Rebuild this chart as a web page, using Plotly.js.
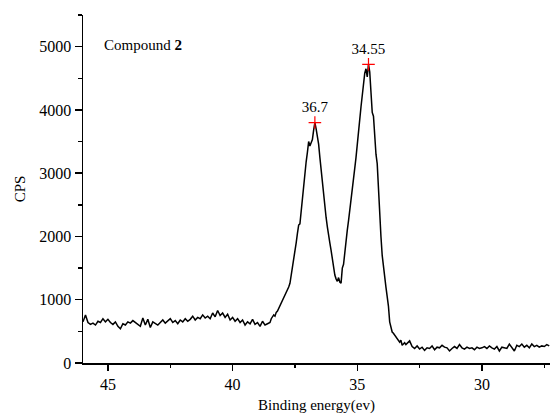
<!DOCTYPE html>
<html>
<head>
<meta charset="utf-8">
<script src="https://cdn.plot.ly/plotly-3.0.1.min.js"></script>
<style>html,body{margin:0;padding:0;background:#fff;}#chart{width:550px;height:419px;}</style>
</head>
<body>
<div id="chart"></div>
<script>
// Binding energy (eV) and counts per second
const energyLow = [46.0,45.9,45.8,45.7,45.6,45.5,45.4,45.3,45.2,45.1,45.0,44.9,44.8,44.7,44.6,44.5,44.4,44.3,44.2,44.1,44.0,43.9,43.8,43.7,43.6,43.5,43.4,43.3,43.2,43.1,43.0,42.9,42.8,42.7,42.6,42.5,42.4,42.3,42.2,42.1,42.0,41.9,41.8,41.7,41.6,41.5,41.4,41.3,41.2,41.1,41.0,40.9,40.8,40.7,40.6,40.5,40.4,40.3,40.2,40.1,40.0,39.9,39.8,39.7,39.6,39.5,39.4,39.3,39.2,39.1,39.0,38.9,38.8,38.7,38.6];
const cpsLow = [650,760,640,610,630,600,660,640,700,650,690,640,610,650,580,540,620,600,650,630,670,640,600,580,710,600,690,560,650,620,600,640,680,630,660,700,640,670,620,680,650,700,660,690,740,680,720,700,760,710,740,700,790,730,830,750,790,720,770,680,720,660,700,640,680,600,650,620,690,610,640,580,660,600,620];

const energyPeaks = [38.5,38.45,38.4,38.35,38.3,38.25,38.2,38.15,38.1,38.05,38.0,37.95,37.9,37.85,37.8,37.75,37.7,37.65,37.6,37.55,37.5,37.45,37.4,37.35,37.3,37.25,37.2,37.15,37.1,37.05,37.0,36.95,36.9,36.85,36.8,36.75,36.7,36.65,36.6,36.55,36.5,36.45,36.4,36.35,36.3,36.25,36.2,36.15,36.1,36.05,36.0,35.95,35.9,35.85,35.8,35.75,35.7,35.65,35.6,35.55,35.5,35.45,35.4,35.35,35.3,35.25,35.2,35.15,35.1,35.05,35.0,34.95,34.9,34.85,34.8,34.75,34.7,34.65,34.6,34.55,34.5,34.45,34.4,34.35,34.3,34.25,34.2,34.15,34.1,34.05,34.0,33.95,33.9,33.85,33.8,33.75,33.7,33.65,33.6,33.55,33.5,33.45,33.4,33.35,33.3,33.25,33.2,33.15,33.1,33.05,33.0];
const cpsPeaks = [640,700,730,760,740,800,820,860,900,960,1000,1040,1070,1110,1140,1200,1260,1380,1480,1620,1760,1900,2050,2180,2200,2420,2620,2800,3000,3180,3330,3500,3430,3500,3530,3680,3800,3700,3580,3460,3250,3050,2850,2600,2420,2300,2150,2050,1900,1780,1640,1480,1390,1330,1290,1350,1280,1260,1500,1560,1780,1900,2100,2250,2400,2560,2700,2880,3080,3250,3420,3650,3850,4050,4250,4450,4580,4650,4520,4720,4600,4280,3960,3900,3550,3300,3150,2700,2400,2000,1700,1500,1380,1200,1050,900,650,540,490,470,440,420,400,370,330,360,280,300,320,290,310];

const energyHigh = [32.9,32.8,32.7,32.6,32.5,32.4,32.3,32.2,32.1,32.0,31.9,31.8,31.7,31.6,31.5,31.4,31.3,31.2,31.1,31.0,30.9,30.8,30.7,30.6,30.5,30.4,30.3,30.2,30.1,30.0,29.9,29.8,29.7,29.6,29.5,29.4,29.3,29.2,29.1,29.0,28.9,28.8,28.7,28.6,28.5,28.4,28.3,28.2,28.1,28.0,27.9,27.8,27.7,27.6,27.5,27.4,27.3];
const cpsHigh = [350,260,230,270,220,250,200,240,230,270,210,250,240,280,250,240,190,230,260,230,290,240,220,250,230,240,210,250,230,240,260,230,270,240,220,260,190,250,240,230,300,250,190,280,260,300,250,280,240,300,260,280,250,270,260,290,270];

const peakEnergy = [36.7, 34.55];
const peakCps = [3800, 4720];
const peakLabels = ['36.7', '34.55'];

const xTicks = [45, 40, 35, 30];
const yTicks = [0, 1000, 2000, 3000, 4000, 5000];

const energy = energyLow.concat(energyPeaks, energyHigh);
const cps = cpsLow.concat(cpsPeaks, cpsHigh);

const font = 'Liberation Serif, Times New Roman, serif';

const traces = [
  {x: energy, y: cps, type: 'scatter', mode: 'lines',
   line: {color: '#000', width: 1.5}, hoverinfo: 'skip'},
  {x: peakEnergy, y: peakCps, type: 'scatter', mode: 'markers+text',
   text: peakLabels, textposition: 'top center',
   textfont: {family: font, size: 15, color: '#000'},
   marker: {symbol: 'cross-thin', size: 9, color: 'red', line: {color: 'red', width: 1.2}}}
];

const layout = {
  width: 550, height: 419,
  margin: {l: 83, r: 0, t: 15, b: 56},
  paper_bgcolor: '#fff', plot_bgcolor: '#fff',
  showlegend: false,
  font: {family: font, size: 15, color: '#000'},
  xaxis: {
    range: [46, 27.27], showgrid: false, zeroline: false,
    showline: true, linecolor: '#000', linewidth: 1.5,
    ticks: 'outside', ticklen: 6, tickwidth: 1.5, tickcolor: '#000',
    tickvals: xTicks, ticktext: xTicks.map(String),
    tickfont: {family: font, size: 16},
    minor: {ticks: 'outside', dtick: 2.5, tick0: 0, ticklen: 3, tickwidth: 1.5, tickcolor: '#000', showgrid: false},
    title: {text: 'Binding energy(ev)', font: {family: font, size: 15}, standoff: 8}
  },
  yaxis: {
    range: [0, 5500], showgrid: false, zeroline: false,
    showline: true, linecolor: '#000', linewidth: 1.5,
    ticks: 'outside', ticklen: 7, tickwidth: 1.5, tickcolor: '#000',
    tickvals: yTicks, ticktext: yTicks.map(String),
    tickfont: {family: font, size: 16},
    minor: {ticks: 'outside', dtick: 500, tick0: 0, ticklen: 4, tickwidth: 1.5, tickcolor: '#000', showgrid: false},
    title: {text: 'CPS', font: {family: font, size: 15}, standoff: 10}
  },
  annotations: [
    {xref: 'paper', yref: 'paper', x: 0.04, y: 0.915, xanchor: 'left', yanchor: 'middle',
     text: 'Compound <b>2</b>', showarrow: false, font: {family: font, size: 15, color: '#000'}}
  ]
};

Plotly.newPlot('chart', traces, layout, {displayModeBar: false, staticPlot: true});
</script>
</body>
</html>
